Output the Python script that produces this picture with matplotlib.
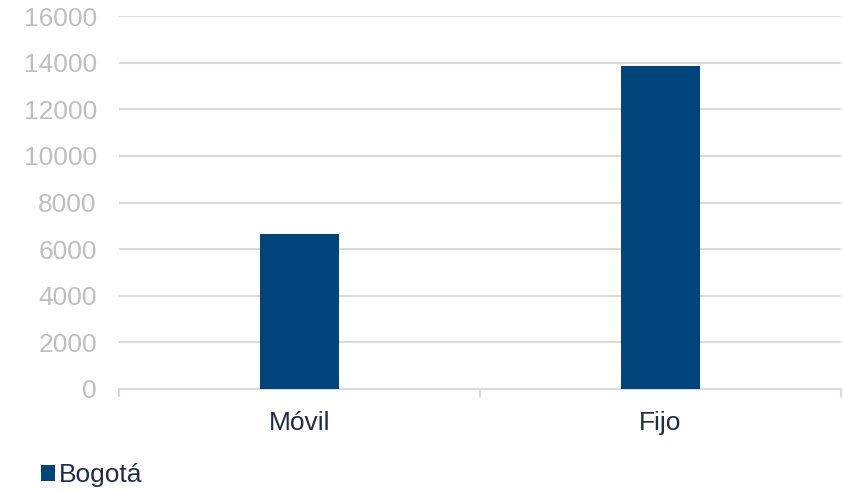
import matplotlib
matplotlib.use("Agg")
import matplotlib.pyplot as plt
from matplotlib.patches import Patch

# data
categories = ["Móvil", "Fijo"]
values = [6650, 13850]
series_name = "Bogotá"
y_ticks = [0, 2000, 4000, 6000, 8000, 10000, 12000, 14000, 16000]

bar_color = "#00447C"
grid_color = "#D9D9D9"
tick_color = "#BFBFBF"
text_color = "#1F2D4A"

plt.rcParams["font.family"] = ["Liberation Sans", "DejaVu Sans"]

fig = plt.figure(figsize=(8.43, 4.91), dpi=100)
ax = fig.add_axes([119 / 843, 1 - 389 / 491, 722 / 843, 373 / 491])

x = list(range(len(categories)))
ax.bar(x, values, width=0.22, color=bar_color, zorder=3)

ax.set_xlim(-0.5, len(categories) - 0.5)
ax.set_ylim(0, 16000)
ax.set_yticks(y_ticks)
ax.set_yticklabels([str(v) for v in y_ticks], fontsize=19, color=tick_color)
ax.set_xticks(x)
ax.set_xticklabels(categories, fontsize=19, color=text_color)

# category boundary ticks
ax.set_xticks([-0.5, 0.5, 1.5], minor=True)
ax.tick_params(axis="x", which="major", length=0, pad=16)
ax.tick_params(axis="x", which="minor", length=6, width=1.5, color=grid_color)
ax.tick_params(axis="y", length=0, pad=16)

ax.grid(axis="y", color=grid_color, linewidth=1.5, zorder=0)
for s in ["top", "right", "left"]:
    ax.spines[s].set_visible(False)
ax.spines["bottom"].set_color(grid_color)
ax.spines["bottom"].set_linewidth(1.5)

handle = Patch(facecolor=bar_color, edgecolor="none")
fig.legend([handle], [series_name], loc="lower left", bbox_to_anchor=(0.02, -0.04),
           frameon=False, fontsize=19, handlelength=0.55, handleheight=0.55,
           handletextpad=0.15, labelcolor=text_color)

fig.savefig("out.png", dpi=100)
